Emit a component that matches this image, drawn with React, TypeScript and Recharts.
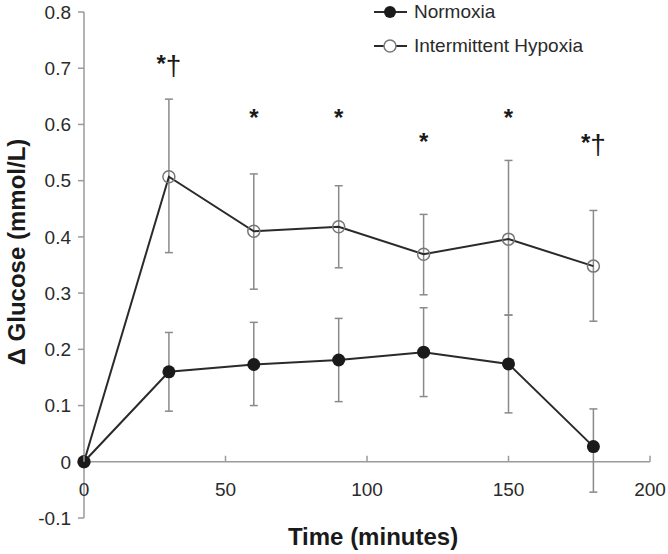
import React from "react";
import {
  LineChart,
  Line,
  XAxis,
  YAxis,
  ErrorBar,
  ReferenceLine,
  Legend,
  Label,
  LabelList,
} from "recharts";

const times = [0, 30, 60, 90, 120, 150, 180];
const normoxia = [0, 0.16, 0.173, 0.181, 0.195, 0.174, 0.027];
const normoxiaUpper = [0, 0.23, 0.248, 0.255, 0.274, 0.261, 0.094];
const normoxiaLower = [0, 0.09, 0.1, 0.107, 0.116, 0.087, -0.054];
const hypoxia = [0, 0.507, 0.41, 0.418, 0.369, 0.396, 0.348];
const hypoxiaUpper = [0, 0.645, 0.512, 0.491, 0.44, 0.536, 0.447];
const hypoxiaLower = [0, 0.372, 0.307, 0.345, 0.297, 0.261, 0.25];
// significance marks above each time point (value = text baseline)
const sigMarks = [null, "*†", "*", "*", "*", "*", "*†"];
const sigLevels = [null, 0.693, 0.598, 0.598, 0.555, 0.598, 0.553];

const xTicks = [0, 50, 100, 150, 200];
const yTicks = [-0.1, 0, 0.1, 0.2, 0.3, 0.4, 0.5, 0.6, 0.7, 0.8];

const data = times.map((t, i) => ({
  time: t,
  normoxia: normoxia[i],
  normoxiaErr: [normoxia[i] - normoxiaLower[i], normoxiaUpper[i] - normoxia[i]],
  hypoxia: hypoxia[i],
  hypoxiaErr: [hypoxia[i] - hypoxiaLower[i], hypoxiaUpper[i] - hypoxia[i]],
  sig: sigLevels[i],
  mark: sigMarks[i],
}));

const W = 668;
const H = 554;
const TOP = 12;
const X_AXIS_H = 36;
const PLOT_H = H - TOP - X_AXIS_H;
const ZERO_Y = TOP + (PLOT_H * 0.8) / 0.9;
const AXIS = "#9a9a9a";
const TEXT = "#2a2a2a";
const FONT = "'Liberation Sans', Arial, sans-serif";

const XTick = ({ x, payload }: any) => (
  <g>
    <line x1={x} x2={x} y1={ZERO_Y} y2={ZERO_Y - 6} stroke={AXIS} strokeWidth={1.5} />
    <text x={x} y={ZERO_Y + 34} textAnchor="middle" fontSize={19} fill={TEXT}>
      {payload.value}
    </text>
  </g>
);

const SigMark = ({ x, y, value }: any) =>
  value ? (
    <text x={x} y={y} textAnchor="middle" fontSize={24} fill="#1a1a1a">
      <tspan fontWeight="bold">*</tspan>
      {value.length > 1 && <tspan fontSize={28} dy={3}>{value.slice(1)}</tspan>}
    </text>
  ) : null;

const LegendBox = () => (
  <div style={{ fontFamily: FONT, fontSize: 19, color: TEXT }}>
    <div style={{ display: "flex", alignItems: "center", height: 24 }}>
      <svg width={40} height={24}>
        <line x1={0} x2={33} y1={12} y2={12} stroke="#2a2a2a" strokeWidth={2} />
        <circle cx={16} cy={12} r={6} fill="#1a1a1a" />
      </svg>
      <span>Normoxia</span>
    </div>
    <div style={{ display: "flex", alignItems: "center", height: 24, marginTop: 10 }}>
      <svg width={40} height={24}>
        <line x1={0} x2={33} y1={12} y2={12} stroke="#2a2a2a" strokeWidth={2} />
        <circle cx={16} cy={12} r={6} fill="#fff" stroke="#777" strokeWidth={1.5} />
      </svg>
      <span>Intermittent Hypoxia</span>
    </div>
  </div>
);

export default function App() {
  return (
    <div style={{ position: "absolute", left: 0, top: 0, background: "#fff", fontFamily: FONT }}>
      <LineChart width={W} height={H} data={data} margin={{ top: TOP, right: 18, bottom: 0, left: 34 }}>
        <XAxis
          dataKey="time"
          type="number"
          domain={[0, 200]}
          ticks={xTicks}
          height={X_AXIS_H}
          axisLine={false}
          tickLine={false}
          tick={<XTick />}
        >
          <Label
            content={() => (
              <text x={373} y={545} textAnchor="middle" fontSize={24} fontWeight="bold" fill="#1a1a1a">
                Time (minutes)
              </text>
            )}
          />
        </XAxis>
        <YAxis
          type="number"
          domain={[-0.1, 0.8]}
          ticks={yTicks}
          width={50}
          axisLine={{ stroke: AXIS, strokeWidth: 1.5 }}
          tickLine={{ stroke: AXIS, strokeWidth: 1.5 }}
          tickSize={6}
          tickMargin={7}
          tick={{ fontSize: 19, fill: TEXT }}
          tickFormatter={(v: number) => (v === 0 ? "0" : v.toFixed(1))}
        >
          <Label
            content={() => (
              <text
                transform="translate(25,252) rotate(-90)"
                textAnchor="middle"
                fontSize={24}
                fontWeight="bold"
                fill="#1a1a1a"
              >
                Δ Glucose (mmol/L)
              </text>
            )}
          />
        </YAxis>
        <ReferenceLine y={0} stroke={AXIS} strokeWidth={1.5} />
        <Legend
          layout="vertical"
          verticalAlign="middle"
          align="center"
          wrapperStyle={{ top: 0, left: 374, width: 280 }}
          content={<LegendBox />}
        />
        <Line
          dataKey="hypoxia"
          stroke="#2a2a2a"
          strokeWidth={2}
          dot={{ r: 6, fill: "none", stroke: "#777", strokeWidth: 1.5 }}
          activeDot={false}
          isAnimationActive={false}
        >
          <ErrorBar dataKey="hypoxiaErr" width={4} stroke="#8a8a8a" strokeWidth={1.5} />
        </Line>
        <Line
          dataKey="normoxia"
          stroke="#2a2a2a"
          strokeWidth={2}
          dot={{ r: 6.5, fill: "#1a1a1a", stroke: "none" }}
          activeDot={false}
          isAnimationActive={false}
        >
          <ErrorBar dataKey="normoxiaErr" width={4} stroke="#8a8a8a" strokeWidth={1.5} />
        </Line>
        <Line
          dataKey="sig"
          stroke="none"
          dot={false}
          activeDot={false}
          legendType="none"
          isAnimationActive={false}
        >
          <LabelList dataKey="mark" content={<SigMark />} />
        </Line>
      </LineChart>
    </div>
  );
}
